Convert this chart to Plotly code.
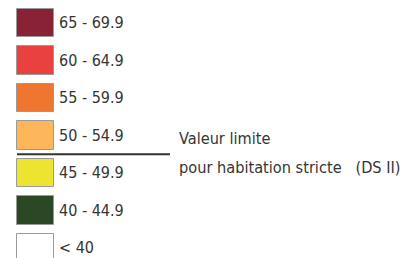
import plotly.graph_objects as go

labels = ["65 - 69.9", "60 - 64.9", "55 - 59.9", "50 - 54.9", "45 - 49.9", "40 - 44.9", "< 40"]
colors = ["#8A2236", "#E8413F", "#EF762F", "#FDB659", "#ECE42E", "#294823", "#FFFFFF"]
note_lines = ["Valeur limite", "pour habitation stricte\u00a0\u00a0\u00a0(DS II)"]

idx = list(range(len(labels)))
FONT = "DejaVu Sans Condensed, Liberation Sans Narrow, sans-serif"
TXT = "#353535"

fig = go.Figure()
fig.add_trace(go.Bar(
    y=idx, x=[37] * len(idx), base=17, orientation="h", width=0.75,
    marker=dict(color=colors, line=dict(color="#9a9a9a", width=1)),
    hoverinfo="skip", showlegend=False,
))
fig.add_trace(go.Scatter(
    y=[i + 0.04 for i in idx], x=[59] * len(idx), mode="text", text=labels,
    textposition="middle right",
    textfont=dict(family=FONT, size=16, color=TXT),
    hoverinfo="skip", showlegend=False,
))
fig.add_shape(type="line", x0=17, x1=170, y0=3.5, y1=3.5,
              line=dict(color="#333333", width=2))
for k, t in enumerate(note_lines):
    fig.add_annotation(x=177, y=3.08 + 0.78 * k, text=t, showarrow=False,
                       xanchor="left", yanchor="middle",
                       font=dict(family=FONT, size=16.2, color=TXT))

fig.update_layout(
    width=403, height=258, margin=dict(l=0, r=0, t=0, b=0),
    paper_bgcolor="white", plot_bgcolor="white",
    xaxis=dict(range=[0, 403], visible=False, fixedrange=True),
    yaxis=dict(range=[6.267, -0.613], visible=False, fixedrange=True),
    bargap=0,
)
fig.write_html("out.html", config={"displayModeBar": False},
               post_script="document.body.style.margin='0';document.body.style.overflow='hidden';")
